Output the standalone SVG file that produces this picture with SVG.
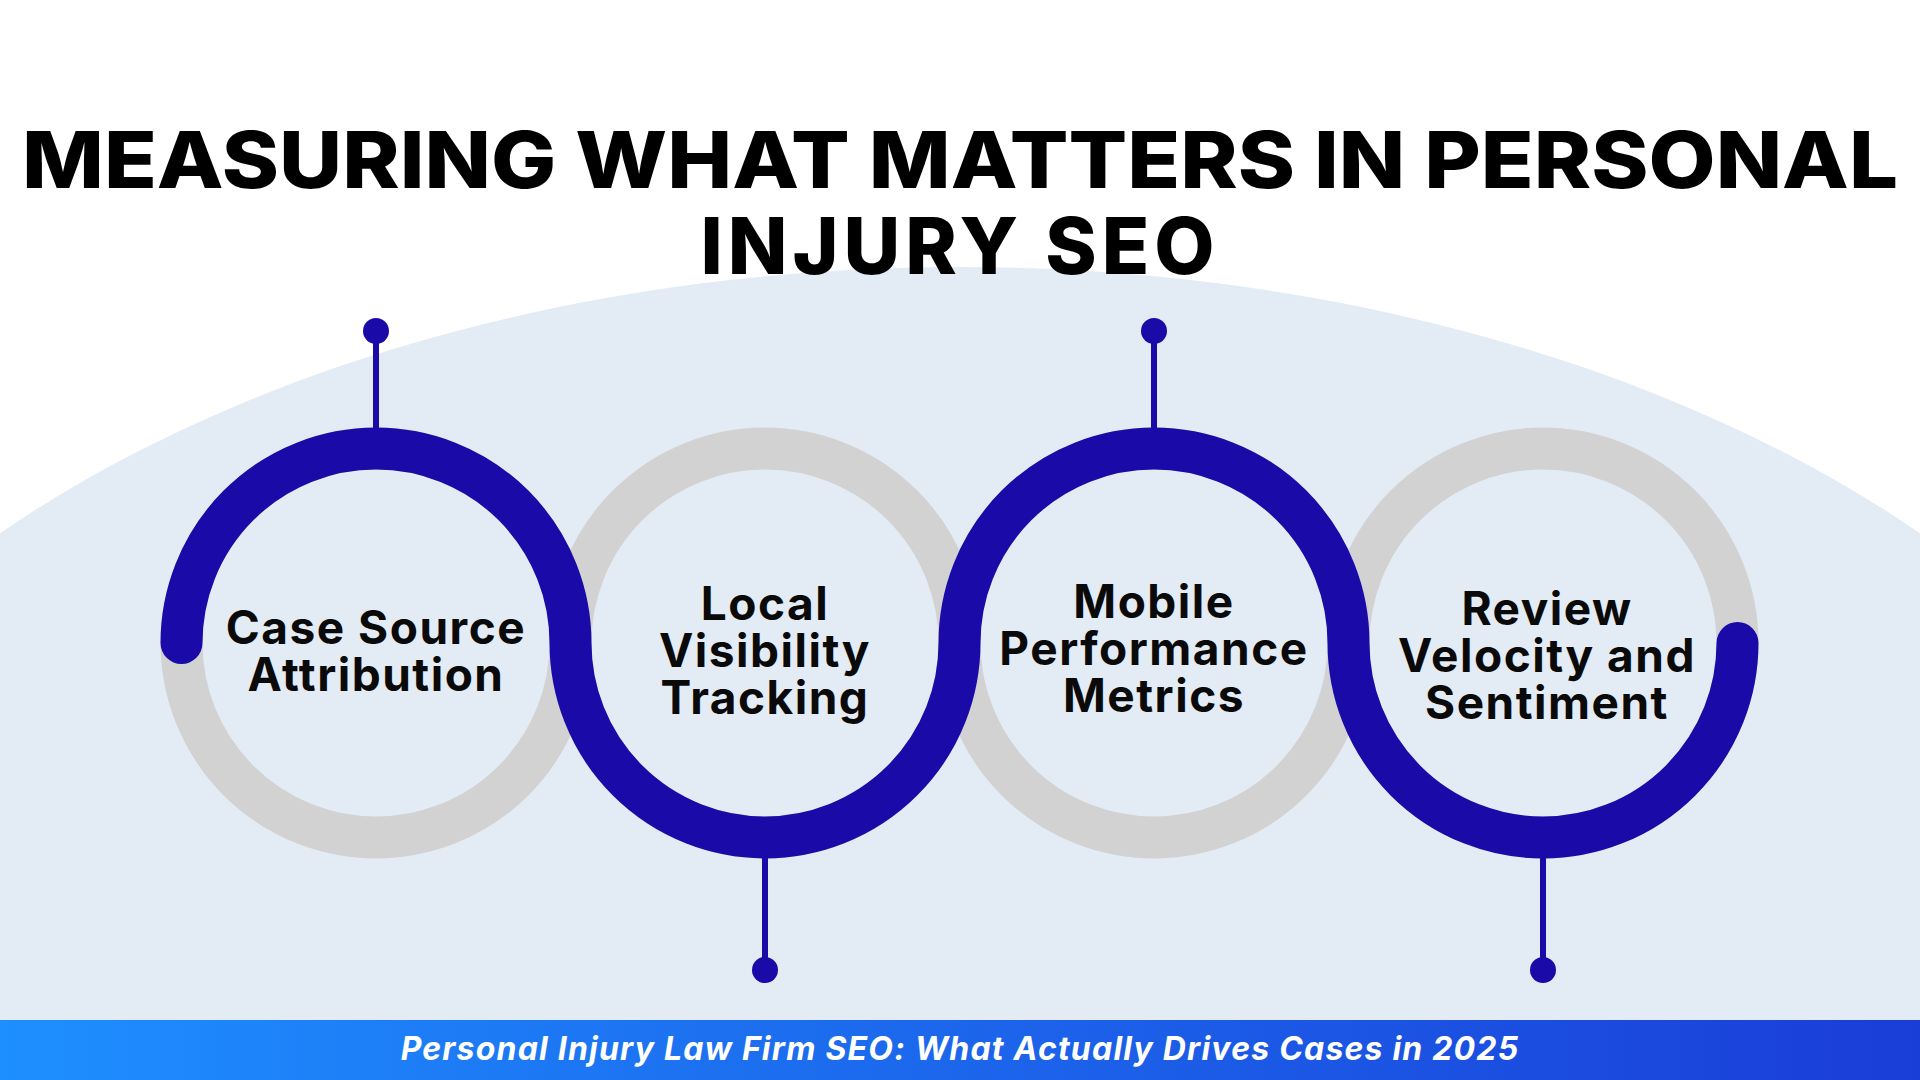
<svg xmlns="http://www.w3.org/2000/svg" width="1920" height="1080" viewBox="0 0 1920 1080">
<defs>
<linearGradient id="fg" x1="0" y1="0" x2="1" y2="0"><stop offset="0" stop-color="#1e8fff"/><stop offset="1" stop-color="#1a3dd8"/></linearGradient>
<style>
.t{font-family:Inter,"Open Sans","Liberation Sans",sans-serif;font-weight:800;fill:#000;text-anchor:middle}
.l{font-family:Inter,"Open Sans","Liberation Sans",sans-serif;font-weight:700;font-size:46px;letter-spacing:1.5px;fill:#0a0a0a;text-anchor:middle}
.g{fill:none;stroke:#d2d2d2;stroke-width:42}
.pin{stroke:#1a0aa8;stroke-width:6}
.dot{fill:#1a0aa8}
</style>
</defs>
<rect width="1920" height="1080" fill="#fff"/>
<ellipse cx="960" cy="1100" rx="1310" ry="833" fill="#e3ecf5"/>
<text class="t" x="960" y="188" font-size="78" textLength="1876" lengthAdjust="spacingAndGlyphs">MEASURING WHAT MATTERS IN PERSONAL</text>
<text class="t" x="960" y="274" font-size="78" letter-spacing="5">INJURY SEO</text>
<g id="rings">
<circle class="g" cx="376" cy="643" r="194.5"/>
<circle class="g" cx="765" cy="643" r="194.5"/>
<circle class="g" cx="1154" cy="643" r="194.5"/>
<circle class="g" cx="1543" cy="643" r="194.5"/>
</g>
<g id="connectors">
<path d="M181.5 643 A194.5 194.5 0 0 1 570.5 643 A194.5 194.5 0 0 0 959.5 643 A194.5 194.5 0 0 1 1348.5 643 A194.5 194.5 0 0 0 1737.5 643" fill="none" stroke="#1a0aa8" stroke-width="42" stroke-linecap="round"/>
<line class="pin" x1="376" y1="331" x2="376" y2="430"/><circle class="dot" cx="376" cy="331" r="13"/>
<line class="pin" x1="1154" y1="331" x2="1154" y2="430"/><circle class="dot" cx="1154" cy="331" r="13"/>
<line class="pin" x1="765" y1="856" x2="765" y2="970"/><circle class="dot" cx="765" cy="970" r="13"/>
<line class="pin" x1="1543" y1="856" x2="1543" y2="970"/><circle class="dot" cx="1543" cy="970" r="13"/>
</g>
<g id="n1"><text class="l" x="376" y="644">Case Source</text><text class="l" x="376" y="691">Attribution</text></g>
<g id="n2"><text class="l" x="765" y="620">Local</text><text class="l" x="765" y="667">Visibility</text><text class="l" x="765" y="714">Tracking</text></g>
<g id="n3"><text class="l" x="1154" y="618">Mobile</text><text class="l" x="1154" y="665">Performance</text><text class="l" x="1154" y="712">Metrics</text></g>
<g id="n4"><text class="l" x="1547" y="625">Review</text><text class="l" x="1547" y="672">Velocity and</text><text class="l" x="1547" y="719">Sentiment</text></g>
<rect x="0" y="1020" width="1920" height="60" fill="url(#fg)"/>
<text x="960" y="1060" font-family="Inter,'Open Sans','Liberation Sans',sans-serif" font-weight="700" font-style="italic" font-size="32" letter-spacing="1.2" fill="#fff" text-anchor="middle">Personal Injury Law Firm SEO: What Actually Drives Cases in 2025</text>
</svg>
